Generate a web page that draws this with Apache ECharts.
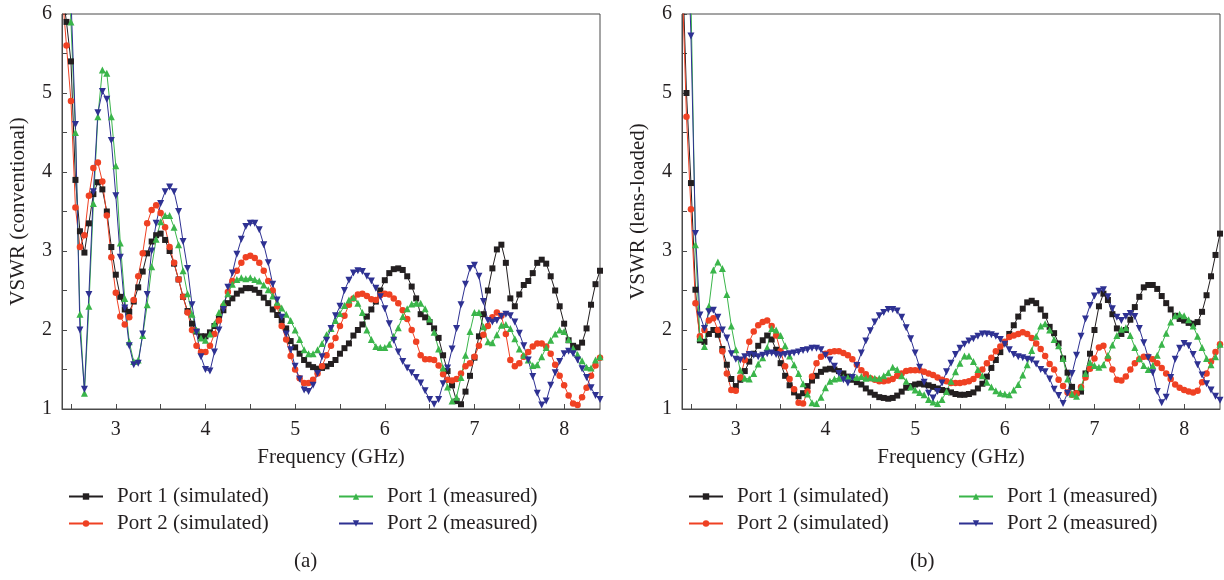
<!DOCTYPE html>
<html>
<head>
<meta charset="utf-8">
<script src="https://cdn.jsdelivr.net/npm/echarts@6/dist/echarts.min.js"></script>
<style>
  html, body { margin: 0; padding: 0; background: #fff; }
  #chart { width: 1224px; height: 580px; }
</style>
</head>
<body>
<div id="chart"></div>
<script>
// frequency points (GHz)
const freq = [2.40,2.45,2.50,2.55,2.60,2.65,2.70,2.75,2.80,2.85,2.90,2.95,3.00,3.05,3.10,3.15,3.20,3.25,3.30,3.35,
  3.40,3.45,3.50,3.55,3.60,3.65,3.70,3.75,3.80,3.85,3.90,3.95,4.00,4.05,4.10,4.15,4.20,4.25,4.30,4.35,
  4.40,4.45,4.50,4.55,4.60,4.65,4.70,4.75,4.80,4.85,4.90,4.95,5.00,5.05,5.10,5.15,5.20,5.25,5.30,5.35,
  5.40,5.45,5.50,5.55,5.60,5.65,5.70,5.75,5.80,5.85,5.90,5.95,6.00,6.05,6.10,6.15,6.20,6.25,6.30,6.35,
  6.40,6.45,6.50,6.55,6.60,6.65,6.70,6.75,6.80,6.85,6.90,6.95,7.00,7.05,7.10,7.15,7.20,7.25,7.30,7.35,
  7.40,7.45,7.50,7.55,7.60,7.65,7.70,7.75,7.80,7.85,7.90,7.95,8.00,8.05,8.10,8.15,8.20,8.25,8.30,8.35,8.40]

// (a) conventional
const convP1Sim = [6.3,5.9,5.4,3.9,3.25,2.98,3.35,3.72,3.87,3.78,3.50,3.05,2.70,2.42,2.26,2.23,2.36,2.54,2.74,2.97,
  3.12,3.20,3.22,3.14,3.00,2.84,2.64,2.42,2.24,2.08,1.98,1.92,1.92,1.97,2.05,2.15,2.25,2.34,2.40,2.46,
  2.50,2.53,2.53,2.51,2.47,2.41,2.34,2.26,2.19,2.12,2.02,1.86,1.78,1.70,1.62,1.56,1.53,1.51,1.52,1.54,
  1.57,1.62,1.70,1.77,1.83,1.93,2.00,2.07,2.17,2.26,2.36,2.50,2.63,2.72,2.77,2.78,2.76,2.68,2.55,2.40,
  2.20,2.16,2.10,2.02,1.90,1.68,1.48,1.30,1.10,1.06,1.22,1.42,1.65,1.92,2.20,2.50,2.78,3.02,3.08,2.85,
  2.40,2.30,2.45,2.57,2.62,2.72,2.85,2.89,2.84,2.68,2.50,2.30,2.08,1.87,1.80,1.78,1.84,2.02,2.32,2.58,2.75]
const convP2Sim = [6.3,5.6,4.9,3.55,3.05,3.20,3.70,4.05,4.12,3.88,3.45,2.92,2.47,2.17,2.07,2.16,2.38,2.68,2.97,3.35,
  3.52,3.58,3.48,3.30,3.05,2.85,2.64,2.42,2.22,2.00,1.80,1.72,1.72,1.80,1.95,2.12,2.30,2.48,2.62,2.75,
  2.85,2.92,2.94,2.91,2.85,2.75,2.62,2.50,2.30,2.05,1.88,1.67,1.50,1.39,1.33,1.33,1.37,1.45,1.54,1.68,
  1.80,1.90,2.05,2.18,2.32,2.40,2.45,2.46,2.43,2.39,2.38,2.44,2.46,2.45,2.40,2.34,2.25,2.14,2.00,1.85,
  1.68,1.63,1.63,1.62,1.55,1.44,1.37,1.36,1.38,1.45,1.54,1.58,1.66,1.80,1.94,2.05,2.16,2.22,2.18,1.95,
  1.62,1.54,1.58,1.66,1.72,1.79,1.83,1.83,1.79,1.70,1.56,1.42,1.30,1.17,1.07,1.05,1.15,1.27,1.42,1.55,1.65]
const convP1Meas = [7.5,7.0,5.9,4.5,2.2,1.2,2.3,3.6,4.7,5.29,5.25,4.70,4.08,3.10,2.40,1.85,1.60,1.62,1.93,2.32,
  2.80,3.15,3.37,3.45,3.45,3.30,3.08,2.75,2.46,2.20,2.00,1.90,1.87,1.95,2.08,2.22,2.34,2.46,2.58,2.64,
  2.66,2.65,2.66,2.64,2.62,2.57,2.51,2.43,2.35,2.28,2.20,2.12,2.00,1.88,1.75,1.70,1.70,1.75,1.83,1.94,
  2.02,2.12,2.21,2.31,2.38,2.41,2.34,2.22,2.00,1.88,1.79,1.78,1.78,1.82,1.92,2.03,2.17,2.27,2.33,2.34,
  2.34,2.27,2.14,1.97,1.76,1.52,1.28,1.10,1.15,1.40,1.68,1.98,2.22,2.22,2.04,1.85,1.84,1.94,2.06,2.07,
  2.02,1.89,1.76,1.68,1.62,1.55,1.56,1.66,1.78,1.87,1.95,2.00,1.98,1.88,1.77,1.69,1.61,1.53,1.52,1.62,1.66]
const convP2Meas = [8.0,7.5,6.2,4.6,2.0,1.25,2.45,3.75,4.75,5.02,4.92,4.40,3.70,2.92,2.28,1.80,1.56,1.58,1.95,2.45,
  3.00,3.35,3.60,3.75,3.81,3.75,3.50,3.12,2.78,2.32,1.97,1.66,1.50,1.48,1.72,2.00,2.26,2.54,2.72,2.96,
  3.15,3.31,3.35,3.35,3.27,3.08,2.85,2.58,2.38,2.16,1.95,1.75,1.54,1.38,1.24,1.22,1.30,1.45,1.66,1.87,
  2.02,2.18,2.30,2.50,2.63,2.72,2.75,2.74,2.68,2.62,2.53,2.42,2.27,2.08,1.87,1.72,1.60,1.52,1.46,1.40,
  1.33,1.23,1.12,1.06,1.12,1.32,1.52,1.76,2.02,2.32,2.58,2.78,2.82,2.68,2.36,2.12,2.10,2.12,2.17,2.20,
  2.18,2.10,1.96,1.80,1.62,1.41,1.20,1.05,1.10,1.30,1.46,1.60,1.70,1.73,1.70,1.62,1.51,1.40,1.27,1.17,1.12]

// (b) lens-loaded
const lensP1Sim = [6.8,5.0,3.86,2.51,1.87,1.85,1.95,2.00,1.94,1.76,1.56,1.38,1.29,1.37,1.48,1.60,1.70,1.80,1.87,1.93,
  1.88,1.75,1.58,1.42,1.30,1.21,1.16,1.20,1.29,1.36,1.42,1.47,1.50,1.51,1.50,1.48,1.45,1.41,1.37,1.34,
  1.31,1.26,1.21,1.18,1.15,1.14,1.13,1.14,1.17,1.22,1.27,1.29,1.31,1.32,1.31,1.30,1.28,1.26,1.24,1.23,
  1.21,1.19,1.18,1.18,1.19,1.21,1.26,1.32,1.41,1.52,1.62,1.72,1.84,1.95,2.06,2.17,2.27,2.35,2.37,2.34,
  2.26,2.18,2.04,1.96,1.83,1.64,1.46,1.28,1.20,1.22,1.45,1.70,2.00,2.30,2.46,2.38,2.20,2.02,1.95,2.00,
  2.13,2.29,2.42,2.54,2.57,2.57,2.52,2.43,2.34,2.26,2.18,2.14,2.12,2.09,2.08,2.10,2.23,2.44,2.68,2.95,3.22]
const lensP2Sim = [6.5,4.70,3.53,2.34,1.92,2.00,2.12,2.15,2.00,1.73,1.45,1.24,1.23,1.40,1.62,1.85,1.98,2.06,2.10,2.12,
  2.05,1.93,1.73,1.54,1.38,1.25,1.08,1.07,1.22,1.41,1.58,1.66,1.70,1.72,1.73,1.73,1.71,1.68,1.63,1.56,
  1.49,1.44,1.39,1.37,1.35,1.35,1.36,1.38,1.42,1.45,1.48,1.49,1.49,1.49,1.47,1.45,1.43,1.40,1.37,1.35,
  1.33,1.33,1.33,1.34,1.35,1.38,1.43,1.50,1.58,1.65,1.73,1.79,1.85,1.91,1.93,1.95,1.97,1.95,1.90,1.83,
  1.76,1.67,1.57,1.50,1.37,1.29,1.21,1.18,1.20,1.28,1.40,1.51,1.64,1.78,1.80,1.64,1.50,1.37,1.36,1.41,
  1.50,1.58,1.63,1.66,1.66,1.63,1.58,1.52,1.45,1.38,1.31,1.27,1.24,1.22,1.21,1.23,1.34,1.45,1.60,1.72,1.82]
const lensP1Meas = [9.0,8.0,6.2,3.08,1.90,1.79,2.30,2.76,2.86,2.78,2.45,2.05,1.75,1.49,1.39,1.38,1.45,1.57,1.65,1.78,
  2.02,2.00,1.93,1.80,1.67,1.56,1.45,1.32,1.19,1.08,1.07,1.15,1.27,1.35,1.38,1.39,1.40,1.40,1.41,1.40,
  1.41,1.39,1.40,1.39,1.39,1.42,1.46,1.53,1.50,1.42,1.35,1.28,1.24,1.21,1.18,1.12,1.09,1.07,1.12,1.22,
  1.35,1.47,1.58,1.67,1.67,1.60,1.50,1.42,1.34,1.28,1.23,1.20,1.19,1.18,1.24,1.31,1.43,1.56,1.74,1.92,
  2.05,2.08,2.00,1.88,1.80,1.64,1.38,1.19,1.16,1.28,1.45,1.59,1.55,1.53,1.56,1.68,1.81,1.93,2.01,2.03,
  1.93,1.78,1.64,1.55,1.50,1.55,1.68,1.82,1.96,2.10,2.18,2.20,2.18,2.13,2.05,1.92,1.78,1.64,1.56,1.66,1.82]
const lensP2Meas = [9.0,7.5,5.72,3.22,2.19,2.02,2.23,2.25,2.16,2.00,1.90,1.70,1.63,1.62,1.66,1.69,1.68,1.66,1.68,1.70,
  1.71,1.69,1.68,1.69,1.70,1.71,1.72,1.74,1.75,1.77,1.77,1.75,1.68,1.62,1.54,1.45,1.37,1.33,1.40,1.55,
  1.71,1.86,1.99,2.10,2.18,2.22,2.26,2.26,2.24,2.16,2.03,1.89,1.71,1.53,1.34,1.20,1.14,1.22,1.33,1.47,
  1.58,1.69,1.77,1.82,1.86,1.89,1.92,1.95,1.95,1.94,1.92,1.88,1.82,1.75,1.69,1.66,1.65,1.63,1.62,1.57,
  1.50,1.47,1.38,1.25,1.17,1.07,1.20,1.45,1.68,1.92,2.14,2.31,2.43,2.49,2.51,2.42,2.27,2.16,2.12,2.17,
  2.21,2.17,2.02,1.84,1.65,1.46,1.22,1.08,1.15,1.40,1.63,1.77,1.83,1.80,1.69,1.56,1.43,1.32,1.24,1.16,1.11]

const xTicks = [2.5,3,3.5,4,4.5,5,5.5,6,6.5,7,7.5,8]
const xLabels = [3,4,5,6,7,8]
const yTicks = [1,1.5,2,2.5,3,3.5,4,4.5,5,5.5,6]
const yLabels = [1,2,3,4,5,6]

const names = ['Port 1 (simulated)', 'Port 2 (simulated)', 'Port 1 (measured)', 'Port 2 (measured)']
const colors = ['#231f20', '#ef4123', '#3ab54a', '#2e3192']
const symbols = ['rect', 'circle', 'triangle', 'triangle']
const symSizes = [6, 6.5, 7, 7]
const symRotate = [0, 0, 0, 180]

const FONT = 'Liberation Serif'
const TXT = '#231f20'
const AXC = '#4a4a4a'

var chart = echarts.init(document.getElementById('chart'))

function pairs(arr) {
    return freq.map(function (f, i) { return [f, arr[i]] })
}

function makeX(idx) {
    return {
        type: 'value', gridIndex: idx, min: 2.4, max: 8.4,
        name: 'Frequency (GHz)', nameLocation: 'middle', nameGap: 38,
        nameTextStyle: { fontFamily: FONT, fontSize: 21, color: TXT },
        axisLine: { show: true, onZero: false, lineStyle: { color: AXC, width: 1 } },
        axisTick: { show: true, inside: true, length: 5, customValues: xTicks, lineStyle: { color: AXC } },
        axisLabel: { customValues: xLabels, margin: 11, fontFamily: FONT, fontSize: 20, color: TXT },
        splitLine: { show: false }
    }
}

function makeY(idx, title) {
    return {
        type: 'value', gridIndex: idx, min: 1, max: 6, interval: 1,
        name: title, nameLocation: 'middle', nameGap: 33, nameRotate: 90,
        nameTextStyle: { fontFamily: FONT, fontSize: 21, color: TXT },
        axisLine: { show: true, lineStyle: { color: AXC, width: 1 } },
        axisTick: { show: true, inside: true, length: 5, customValues: yTicks, lineStyle: { color: AXC } },
        axisLabel: { customValues: yLabels, margin: 10, fontFamily: FONT, fontSize: 20, color: TXT },
        splitLine: { show: false }
    }
}

const panels = [
    [convP1Sim, convP2Sim, convP1Meas, convP2Meas],
    [lensP1Sim, lensP2Sim, lensP1Meas, lensP2Meas]
]

let series = []
panels.forEach(function (set, p) {
    [0, 1, 2, 3].forEach(function (k) {
        series.push({
            name: names[k], type: 'line', xAxisIndex: p, yAxisIndex: p,
            data: pairs(set[k]),
            symbol: symbols[k], symbolSize: symSizes[k], symbolRotate: symRotate[k],
            showAllSymbol: true, clip: true,
            lineStyle: { color: colors[k], width: 1 },
            itemStyle: { color: colors[k] },
            emphasis: { disabled: true },
            animation: false
        })
    })
})

function makeLegend(left, items) {
    return {
        left: left, top: 481, orient: 'vertical', itemGap: 6,
        itemWidth: 34, itemHeight: 8, data: items,
        selectedMode: false,
        textStyle: { fontFamily: FONT, fontSize: 21, color: TXT, padding: [0, 0, 0, 9] }
    }
}

let option = {
    backgroundColor: '#fff',
    animation: false,
    grid: [
        { left: 62, top: 14, width: 538, height: 395, show: true, borderColor: AXC, borderWidth: 1 },
        { left: 682, top: 14, width: 538, height: 395, show: true, borderColor: AXC, borderWidth: 1 }
    ],
    xAxis: [makeX(0), makeX(1)],
    yAxis: [makeY(0, 'VSWR (conventional)'), makeY(1, 'VSWR (lens-loaded)')],
    legend: [
        makeLegend(63, [names[0], names[1]]),
        makeLegend(333, [names[2], names[3]]),
        makeLegend(683, [names[0], names[1]]),
        makeLegend(953, [names[2], names[3]])
    ],
    graphic: [
        { type: 'text', left: 294, top: 551, style: { text: '(a)', font: '21px "Liberation Serif"', fill: TXT } },
        { type: 'text', left: 910, top: 551, style: { text: '(b)', font: '21px "Liberation Serif"', fill: TXT } }
    ],
    series: series
}

chart.setOption(option)
</script>
</body>
</html>
